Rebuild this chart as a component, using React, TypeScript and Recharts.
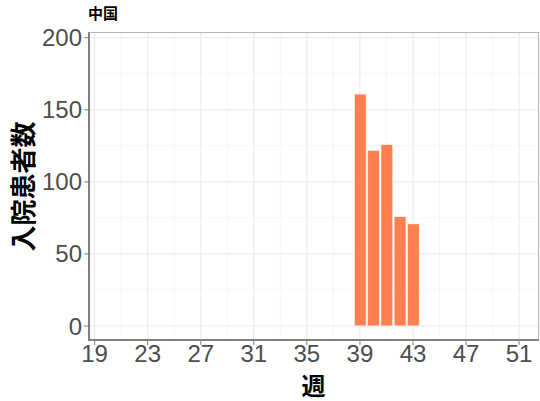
import { BarChart, Bar, XAxis, YAxis, CartesianGrid, Label } from 'recharts'

const weeks = [39, 40, 41, 42, 43]
const patients = [161, 122, 126, 76, 71]
const xTicks = [19, 23, 27, 31, 35, 39, 43, 47, 51]
const xMinor = [21, 25, 29, 33, 37, 41, 45, 49]
const yTicks = [0, 50, 100, 150, 200]
const yMinor = [25, 75, 125, 175]

const data = weeks.map((w, i) => ({ week: w, value: patients[i] }))

const W = 540
const H = 401
const M = { top: 32, right: 1, left: 0, bottom: 0 }
const Y_W = 88
const X_H = 60

const sans = '"Liberation Sans", Arial, "Noto Sans CJK JP", sans-serif'
const cjk = '"Noto Sans CJK JP", sans-serif'

export default function App() {
  return (
    <div style={{ position: 'absolute', left: 0, top: 0, width: W, height: H, background: '#fff' }}>
      <div
        style={{
          position: 'absolute',
          left: 88,
          top: 2,
          fontFamily: cjk,
          fontWeight: 700,
          fontSize: 15,
          color: '#000',
        }}
      >
        中国
      </div>
      <BarChart width={W} height={H} data={data} margin={M}>
        <CartesianGrid
          horizontalValues={yMinor}
          verticalValues={xMinor}
          stroke="#f4f4f4"
          strokeWidth={0.8}
        />
        <CartesianGrid
          horizontalValues={yTicks}
          verticalValues={xTicks}
          stroke="#ebebeb"
          strokeWidth={1.2}
        />
        <XAxis
          dataKey="week"
          type="number"
          domain={[18.5, 52.5]}
          ticks={xTicks}
          allowDataOverflow
          height={X_H}
          tick={{ fontSize: 24, fill: '#4d4d4d', fontFamily: sans }}
          tickLine={{ stroke: '#7f7f7f' }}
          axisLine={false}
          tickSize={4}
          tickMargin={0}
        >
          <Label
            value="週"
            position="insideBottom"
            offset={6}
            style={{ fontSize: 24, fontWeight: 700, fill: '#000', fontFamily: cjk }}
          />
        </XAxis>
        <YAxis
          type="number"
          domain={[-10.4, 204]}
          ticks={yTicks}
          allowDataOverflow
          width={Y_W}
          tick={{ fontSize: 24, fill: '#4d4d4d', fontFamily: sans }}
          tickLine={{ stroke: '#7f7f7f' }}
          axisLine={false}
          tickSize={4}
          tickMargin={2}
        >
          <Label
            value="入院患者数"
            angle={-90}
            position="insideLeft"
            offset={24}
            style={{ fontSize: 26, fontWeight: 700, fill: '#000', fontFamily: cjk, textAnchor: 'middle' }}
          />
        </YAxis>
        <Bar
          dataKey="value"
          fill="#ff7f50"
          stroke="#ffffff"
          strokeWidth={0.8}
          barSize={12}
          isAnimationActive={false}
        />
      </BarChart>
      <div
        style={{
          position: 'absolute',
          left: 88,
          top: 32,
          width: W - 88 - 1,
          height: 341 - 32,
          boxSizing: 'border-box',
          borderTop: '1px solid #b3b3b3',
          borderRight: '1px solid #b3b3b3',
          borderLeft: '2px solid #7f7f7f',
          borderBottom: '2px solid #7f7f7f',
          pointerEvents: 'none',
        }}
      />
    </div>
  )
}
